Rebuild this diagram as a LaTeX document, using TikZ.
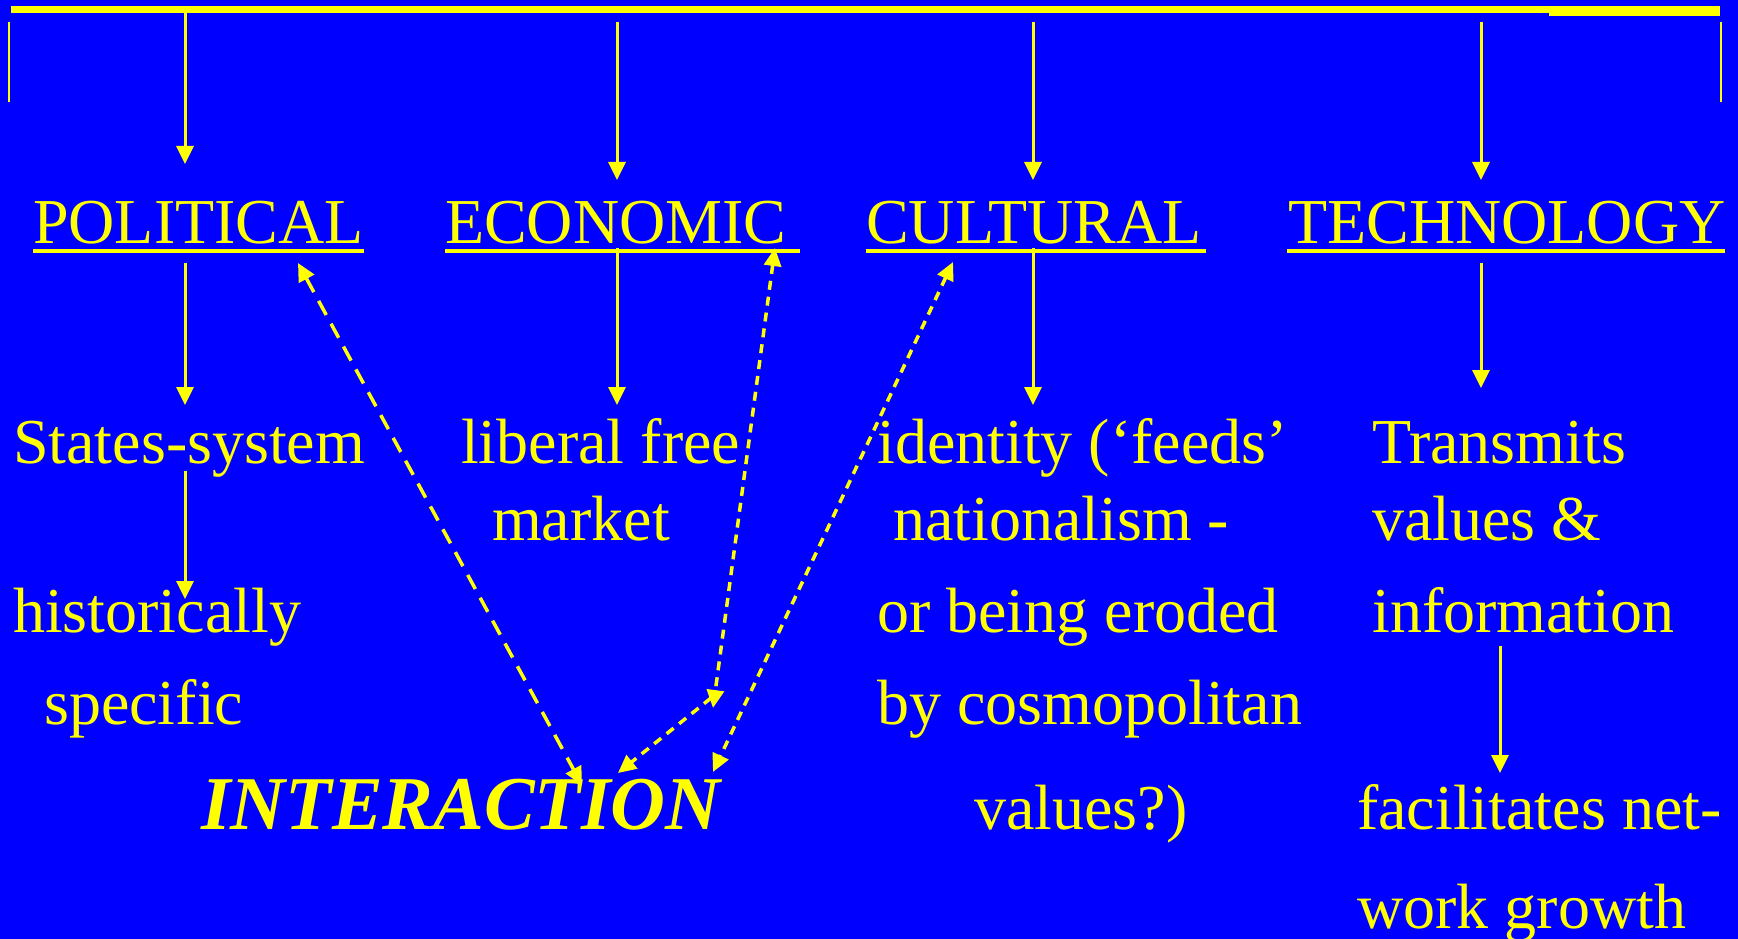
\documentclass[tikz,border=0pt]{standalone}
\usepackage{fontspec}
\setmainfont{Liberation Serif}
\usetikzlibrary{arrows.meta}
\definecolor{bg}{RGB}{0,0,255}
\definecolor{yel}{RGB}{255,255,0}
\begin{document}
\begin{tikzpicture}[x=1pt,y=-1pt,
  txt/.style={text=yel,font=\fontsize{64}{70}\selectfont,anchor=base west,inner sep=0pt},
  inter/.style={text=yel,font=\fontsize{76}{80}\selectfont\bfseries\itshape,anchor=base west,inner sep=0pt},
  uline/.style={draw=yel,line width=4pt},
  bar/.style={fill=yel},
  sideline/.style={draw=yel,line width=2.5pt},
  tip/.style={},
  arr/.style={draw=yel,line width=3pt,-{Triangle[length=18pt 0 0,width=17pt 0 0]}},
  longdash/.style={draw=yel,line width=3.5pt,dash pattern=on 16pt off 10pt,
     {Triangle[length=18pt 0 0,width=17pt 0 0]}-{Triangle[length=18pt 0 0,width=17pt 0 0]}},
  shortdash/.style={draw=yel,line width=3.5pt,dash pattern=on 9pt off 7pt,
     {Triangle[length=18pt 0 0,width=17pt 0 0]}-{Triangle[length=18pt 0 0,width=17pt 0 0]}},
  shortdashone/.style={draw=yel,line width=3.5pt,dash pattern=on 9pt off 7pt,
     -{Triangle[length=18pt 0 0,width=17pt 0 0]}}
]
% background / bounding box
\fill[bg] (0,0) rectangle (1738,939);
\useasboundingbox (0,0) rectangle (1738,939);

% top bar and side lines
\fill[bar] (11,6) rectangle (1720,13);
\fill[bar] (1549,10) rectangle (1720,16);
\draw[sideline] (9,22) -- (9,102);
\draw[sideline] (1721,22) -- (1721,102);

% headings
\node[txt] (pol) at (33,243) {POLITICAL};
\node[txt] (eco) at (445,243) {ECONOMIC};
\node[txt] (cul) at (866,243) {CULTURAL};
\node[txt] (tec) at (1288,243) {TECHNOLOGY};
\draw[uline] (33,251) -- (364,251);
\draw[uline] (445,251) -- (800,251);
\draw[uline] (866,251) -- (1206,251);
\draw[uline] (1287,251) -- (1725,251);

% body texts
\node[txt] (states) at (13,463) {States-system};
\node[txt] (hist) at (13,632) {historically};
\node[txt] (spec) at (44,724) {specific};
\node[txt] (lib) at (461,463) {liberal free};
\node[txt] (mkt) at (492,540) {market};
\node[txt] (ident) at (877,463) {identity (‘feeds’};
\node[txt] (nat) at (893,540) {nationalism -};
\node[txt] (erod) at (877,632) {or being eroded};
\node[txt] (cosmo) at (877,724) {by cosmopolitan};
\node[txt] (vals) at (974,829) {values?)};
\node[txt] (trans) at (1372,463) {Transmits};
\node[txt] (vamp) at (1372,540) {values \&};
\node[txt] (info) at (1372,632) {information};
\node[txt] (facil) at (1357,829) {facilitates net-};
\node[txt] (work) at (1357,928) {work growth};
\node[inter] (int) at (201,829) {INTERACTION};

% arrow end points
\coordinate (a1s) at (185,13);   \coordinate (a1e) at (185,164);
\coordinate (a2s) at (617,22);   \coordinate (a2e) at (617,180);
\coordinate (a3s) at (1033,22);  \coordinate (a3e) at (1033,180);
\coordinate (a4s) at (1481,22);  \coordinate (a4e) at (1481,180);
\coordinate (b1s) at (185,263);  \coordinate (b1e) at (185,405);
\coordinate (b2s) at (617,248);  \coordinate (b2e) at (617,405);
\coordinate (b3s) at (1033,248); \coordinate (b3e) at (1033,405);
\coordinate (b4s) at (1481,263); \coordinate (b4e) at (1481,388);
\coordinate (c1s) at (185,471);  \coordinate (c1e) at (185,599);
\coordinate (c2s) at (1500,646); \coordinate (c2e) at (1500,773);

\draw[arr] (a1s) -- (a1e);
\draw[arr] (a2s) -- (a2e);
\draw[arr] (a3s) -- (a3e);
\draw[arr] (a4s) -- (a4e);
\draw[arr] (b1s) -- (b1e);
\draw[arr] (b2s) -- (b2e);
\draw[arr] (b3s) -- (b3e);
\draw[arr] (b4s) -- (b4e);
\draw[arr] (c1s) -- (c1e);
\draw[arr] (c2s) -- (c2e);

% dashed interaction arrows
\coordinate (polin) at (298,263);
\coordinate (intA) at (582,785);
\coordinate (ecoin) at (775,248);
\coordinate (mid) at (713,708);
\coordinate (midS) at (711,698);
\coordinate (intB) at (618,773);
\coordinate (culin) at (953,262);
\coordinate (intC) at (713,772);

\draw[longdash] (polin) -- (intA);
\draw[shortdash] (ecoin) -- (mid);
\draw[shortdashone] (midS) -- (intB);
\draw[shortdash] (culin) -- (intC);
\end{tikzpicture}
\end{document}
